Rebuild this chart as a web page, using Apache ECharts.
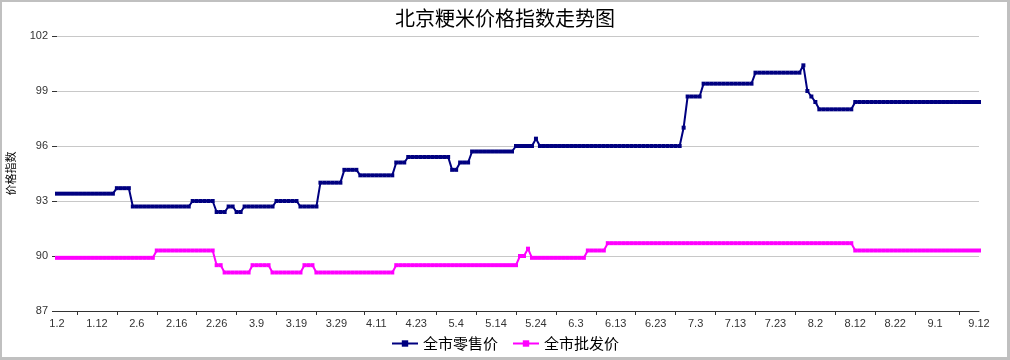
<!DOCTYPE html>
<html>
<head>
<meta charset="utf-8">
<script src="https://cdn.jsdelivr.net/npm/echarts@6/dist/echarts.min.js"></script>
<style>
html,body{margin:0;padding:0;background:#fff;}
#wrap{position:relative;width:1010px;height:360px;}
#chart{position:absolute;left:0;top:0;width:1010px;height:360px;}
#frame{position:absolute;left:0;top:0;width:1010px;height:360px;box-sizing:border-box;border:2px solid #c0c0c0;border-right-width:3px;border-bottom-width:3px;pointer-events:none;}
</style>
</head>
<body>
<div id="wrap"><div id="chart"></div><div id="frame"></div></div>
<script>
const title = '北京粳米价格指数走势图';
const yName = '价格指数';
const seriesNames = ['全市零售价', '全市批发价'];

const categories = (
  '1.2 1.3 1.4 1.5 1.6 1.7 1.8 1.9 1.10 1.11 1.12 1.13 1.14 1.15 1.16 1.17 1.18 1.19 1.20 1.21 ' +
  '2.6 2.7 2.8 2.9 2.10 2.11 2.12 2.13 2.14 2.15 2.16 2.17 2.18 2.19 2.20 2.21 2.22 2.23 2.24 2.25 2.26 2.27 2.28 ' +
  '3.1 3.2 3.3 3.4 3.5 3.6 3.7 3.9 3.10 3.11 3.12 3.13 3.14 3.15 3.16 3.17 3.18 3.19 3.20 3.21 3.22 3.23 3.24 3.25 3.26 3.27 3.28 3.29 3.30 3.31 ' +
  '4.1 4.2 4.3 4.7 4.8 4.9 4.10 4.11 4.12 4.13 4.14 4.15 4.18 4.19 4.20 4.21 4.22 4.23 4.24 4.25 4.26 4.27 4.28 4.29 4.30 ' +
  '5.2 5.3 5.4 5.5 5.6 5.7 5.8 5.9 5.10 5.11 5.12 5.13 5.14 5.15 5.16 5.17 5.18 5.19 5.20 5.21 5.22 5.23 5.24 5.25 5.26 5.27 5.28 5.29 5.30 5.31 ' +
  '6.1 6.2 6.3 6.4 6.5 6.6 6.7 6.8 6.9 6.10 6.11 6.12 6.13 6.14 6.15 6.16 6.17 6.18 6.19 6.20 6.21 6.22 6.23 6.24 6.25 6.26 6.27 6.28 6.29 6.30 ' +
  '7.1 7.2 7.3 7.4 7.5 7.6 7.7 7.8 7.9 7.10 7.11 7.12 7.13 7.14 7.15 7.16 7.17 7.18 7.19 7.20 7.21 7.22 7.23 7.24 7.25 7.26 7.27 7.28 7.29 7.30 7.31 ' +
  '8.1 8.2 8.3 8.4 8.5 8.6 8.7 8.8 8.9 8.10 8.11 8.12 8.13 8.14 8.15 8.16 8.17 8.18 8.19 8.20 8.21 8.22 8.23 8.24 8.25 8.26 8.27 8.28 8.29 8.30 8.31 ' +
  '9.1 9.2 9.3 9.4 9.5 9.6 9.7 9.8 9.9 9.10 9.11 9.12'
).split(' ');

const tickLabels = ['1.2','1.12','2.6','2.16','2.26','3.9','3.19','3.29','4.11','4.23','5.4','5.14','5.24','6.3','6.13','6.23','7.3','7.13','7.23','8.2','8.12','8.22','9.1','9.12'];
const tickMarkDates = ['1.7','1.17','2.11','2.21','3.3','3.14','3.24','4.8','4.18','4.28','5.9','5.19','5.29','6.8','6.18','6.28','7.8','7.18','7.28','8.7','8.17','8.27','9.7'];

const yTicks = [87, 90, 93, 96, 99, 102];

const retail = [
  93.4,93.4,93.4,93.4,93.4,93.4,93.4,93.4,93.4,93.4,
  93.4,93.4,93.4,93.4,93.4,93.7,93.7,93.7,93.7,92.7,
  92.7,92.7,92.7,92.7,92.7,92.7,92.7,92.7,92.7,92.7,
  92.7,92.7,92.7,92.7,93.0,93.0,93.0,93.0,93.0,93.0,
  92.4,92.4,92.4,92.7,92.7,92.4,92.4,92.7,92.7,92.7,
  92.7,92.7,92.7,92.7,92.7,93.0,93.0,93.0,93.0,93.0,
  93.0,92.7,92.7,92.7,92.7,92.7,94.0,94.0,94.0,94.0,
  94.0,94.0,94.7,94.7,94.7,94.7,94.4,94.4,94.4,94.4,
  94.4,94.4,94.4,94.4,94.4,95.1,95.1,95.1,95.4,95.4,
  95.4,95.4,95.4,95.4,95.4,95.4,95.4,95.4,95.4,94.7,
  94.7,95.1,95.1,95.1,95.7,95.7,95.7,95.7,95.7,95.7,
  95.7,95.7,95.7,95.7,95.7,96.0,96.0,96.0,96.0,96.0,
  96.4,96.0,96.0,96.0,96.0,96.0,96.0,96.0,96.0,96.0,
  96.0,96.0,96.0,96.0,96.0,96.0,96.0,96.0,96.0,96.0,
  96.0,96.0,96.0,96.0,96.0,96.0,96.0,96.0,96.0,96.0,
  96.0,96.0,96.0,96.0,96.0,96.0,96.0,97.0,98.7,98.7,
  98.7,98.7,99.4,99.4,99.4,99.4,99.4,99.4,99.4,99.4,
  99.4,99.4,99.4,99.4,99.4,100.0,100.0,100.0,100.0,100.0,
  100.0,100.0,100.0,100.0,100.0,100.0,100.0,100.4,99.0,98.7,
  98.4,98.0,98.0,98.0,98.0,98.0,98.0,98.0,98.0,98.0,
  98.4,98.4,98.4,98.4,98.4,98.4,98.4,98.4,98.4,98.4,
  98.4,98.4,98.4,98.4,98.4,98.4,98.4,98.4,98.4,98.4,
  98.4,98.4,98.4,98.4,98.4,98.4,98.4,98.4,98.4,98.4,
  98.4,98.4
];

const wholesale = [
  89.9,89.9,89.9,89.9,89.9,89.9,89.9,89.9,89.9,89.9,
  89.9,89.9,89.9,89.9,89.9,89.9,89.9,89.9,89.9,89.9,
  89.9,89.9,89.9,89.9,89.9,90.3,90.3,90.3,90.3,90.3,
  90.3,90.3,90.3,90.3,90.3,90.3,90.3,90.3,90.3,90.3,
  89.5,89.5,89.1,89.1,89.1,89.1,89.1,89.1,89.1,89.5,
  89.5,89.5,89.5,89.5,89.1,89.1,89.1,89.1,89.1,89.1,
  89.1,89.1,89.5,89.5,89.5,89.1,89.1,89.1,89.1,89.1,
  89.1,89.1,89.1,89.1,89.1,89.1,89.1,89.1,89.1,89.1,
  89.1,89.1,89.1,89.1,89.1,89.5,89.5,89.5,89.5,89.5,
  89.5,89.5,89.5,89.5,89.5,89.5,89.5,89.5,89.5,89.5,
  89.5,89.5,89.5,89.5,89.5,89.5,89.5,89.5,89.5,89.5,
  89.5,89.5,89.5,89.5,89.5,89.5,90.0,90.0,90.4,89.9,
  89.9,89.9,89.9,89.9,89.9,89.9,89.9,89.9,89.9,89.9,
  89.9,89.9,89.9,90.3,90.3,90.3,90.3,90.3,90.7,90.7,
  90.7,90.7,90.7,90.7,90.7,90.7,90.7,90.7,90.7,90.7,
  90.7,90.7,90.7,90.7,90.7,90.7,90.7,90.7,90.7,90.7,
  90.7,90.7,90.7,90.7,90.7,90.7,90.7,90.7,90.7,90.7,
  90.7,90.7,90.7,90.7,90.7,90.7,90.7,90.7,90.7,90.7,
  90.7,90.7,90.7,90.7,90.7,90.7,90.7,90.7,90.7,90.7,
  90.7,90.7,90.7,90.7,90.7,90.7,90.7,90.7,90.7,90.7,
  90.3,90.3,90.3,90.3,90.3,90.3,90.3,90.3,90.3,90.3,
  90.3,90.3,90.3,90.3,90.3,90.3,90.3,90.3,90.3,90.3,
  90.3,90.3,90.3,90.3,90.3,90.3,90.3,90.3,90.3,90.3,
  90.3,90.3
];

const FONT = '"Liberation Sans", "Noto Sans CJK SC", sans-serif';
const chart = echarts.init(document.getElementById('chart'), null, {renderer: 'canvas'});
chart.setOption({
  animation: false,
  backgroundColor: '#ffffff',
  textStyle: {fontFamily: FONT},
  title: {
    text: title, left: 'center', top: 3,
    textStyle: {fontSize: 20, fontWeight: 'normal', color: '#000', fontFamily: '"Noto Sans CJK SC", sans-serif'}
  },
  legend: {
    data: seriesNames, bottom: 4, left: 'center',
    itemWidth: 26, itemHeight: 8, itemGap: 14,
    textStyle: {fontSize: 15, color: '#000', fontFamily: '"Noto Sans CJK SC", sans-serif'}
  },
  grid: {left: 57, right: 31, top: 36, bottom: 49, containLabel: false, outerBoundsMode: 'none'},
  xAxis: {
    type: 'category', data: categories, boundaryGap: false,
    axisLine: {show: true, lineStyle: {color: '#333', width: 1}},
    axisTick: {show: true, length: 4, lineStyle: {color: '#333'},
      interval: function (i, v) { return tickMarkDates.indexOf(categories[i]) >= 0; }},
    axisLabel: {fontSize: 11, color: '#333', margin: 7,
      interval: function (i, v) { return tickLabels.indexOf(categories[i]) >= 0; }},
    splitLine: {show: false}
  },
  yAxis: {
    type: 'value', min: yTicks[0], max: yTicks[yTicks.length - 1], interval: 3,
    name: yName, nameLocation: 'middle', nameGap: 41, nameRotate: 90,
    nameTextStyle: {fontSize: 11, color: '#000', fontFamily: '"Noto Sans CJK SC", sans-serif'},
    axisLine: {show: false},
    axisTick: {show: true, length: 5, lineStyle: {color: '#333'}},
    axisLabel: {fontSize: 11, color: '#333', margin: 9},
    splitLine: {show: true, lineStyle: {color: '#c8c8c8', width: 1}}
  },
  series: [
    {
      name: seriesNames[0], type: 'line', data: retail,
      symbol: 'rect', symbolSize: 4, showAllSymbol: true,
      lineStyle: {color: '#000080', width: 2},
      itemStyle: {color: '#000080'}
    },
    {
      name: seriesNames[1], type: 'line', data: wholesale,
      symbol: 'rect', symbolSize: 4, showAllSymbol: true,
      lineStyle: {color: '#ff00ff', width: 2},
      itemStyle: {color: '#ff00ff'}
    }
  ]
});
</script>
</body>
</html>
